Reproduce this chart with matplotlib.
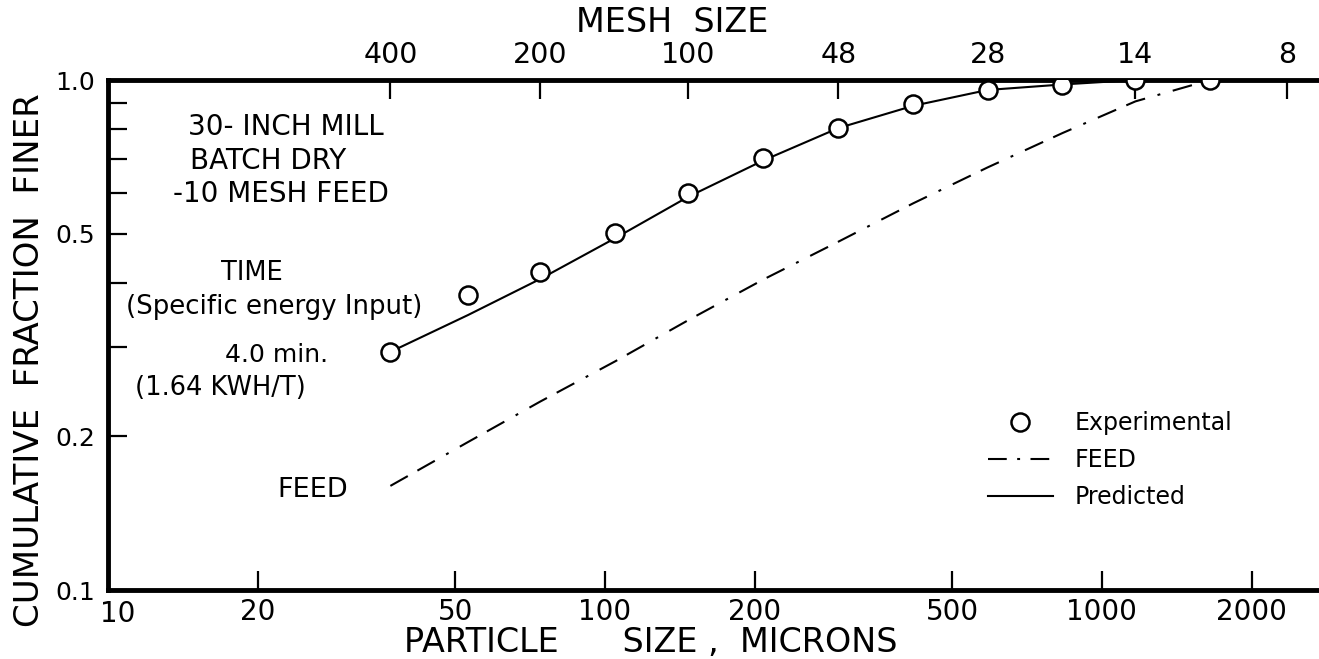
import matplotlib
matplotlib.use("Agg")
import matplotlib.pyplot as plt
from matplotlib.lines import Line2D
from matplotlib.ticker import NullLocator

# Particle sizes (microns), root-2 sieve series
sizes_um = [37, 53, 74, 105, 147, 208, 295, 417, 589, 833, 1168, 1651]
experimental = [0.293, 0.379, 0.42, 0.501, 0.60, 0.703, 0.805, 0.897, 0.956, 0.978, 1.0, 1.0]
predicted_um = [37, 53, 74, 105, 147, 208, 295, 417, 589, 833, 1168]
predicted = [0.293, 0.346, 0.407, 0.49, 0.59, 0.695, 0.805, 0.89, 0.956, 0.98, 1.0]
feed = [0.160, 0.195, 0.234, 0.281, 0.338, 0.406, 0.482, 0.573, 0.674, 0.787, 0.908, 1.0]

# axis ticks
x_ticks = [20, 50, 100, 200, 500, 1000, 2000]
x_ticklabels = ["20", "50", "100", "200", "500", "1000", "2000"]
y_ticks = [0.1, 0.2, 0.3, 0.4, 0.5, 0.6, 0.7, 0.8, 0.9, 1.0]
y_ticklabels = ["0.1", "0.2", "", "", "0.5", "", "", "", "", "1.0"]
mesh_um = [37, 74, 147, 295, 589, 1168, 2362]
mesh_labels = ["400", "200", "100", "48", "28", "14", "8"]

plt.rcParams["font.family"] = ["DejaVu Sans"]

fig = plt.figure(figsize=(13.19, 6.59), dpi=100)
ax = fig.add_axes([108 / 1319, 69 / 659, 1211 / 1319, 510 / 659])
ax.set_xscale("log")
ax.set_yscale("log")
ax.set_xlim(10, 2734)
ax.set_ylim(0.1, 1.0)

feed_style = (0, (9.6, 5.3, 9.6, 6.2, 1.4, 6.2))
ax.plot(sizes_um, feed, color="black", lw=1.5, linestyle=feed_style, zorder=2)
ax.plot(predicted_um, predicted, color="black", lw=1.5, zorder=2)
ax.plot(sizes_um, experimental, linestyle="none", marker="o", ms=13,
        mfc="white", mec="black", mew=1.8, zorder=3)

for side in ["left", "top", "bottom"]:
    ax.spines[side].set_linewidth(3.5)
ax.spines["right"].set_visible(False)

ax.set_xticks(x_ticks, labels=x_ticklabels)
ax.set_yticks(y_ticks, labels=y_ticklabels)
ax.xaxis.set_minor_locator(NullLocator())
ax.yaxis.set_minor_locator(NullLocator())
ax.tick_params(axis="both", direction="in", length=14, width=1.6, color="black")
ax.tick_params(axis="x", pad=6, labelsize=20)
ax.tick_params(axis="y", pad=9, labelsize=18)
ax.tick_params(top=False, right=False)

# bottom "10" label at the corner
ax.text(0.008, -0.02, "10", transform=ax.transAxes, ha="center", va="top", fontsize=20)

ax.set_xlabel("PARTICLE      SIZE ,  MICRONS", fontsize=24, va="center")
ax.xaxis.set_label_coords((651 - 108) / 1211, (590 - 642) / 510)
ax.set_ylabel("CUMULATIVE  FRACTION  FINER", fontsize=24.5, va="center")
ax.yaxis.set_label_coords((30 - 108) / 1211, (590 - 360) / 510)

# top axis: mesh size (drawn underneath the data so markers hide its ticks)
top = ax.twiny()
top.set_xscale("log")
top.set_xlim(ax.get_xlim())
for s in top.spines.values():
    s.set_visible(False)
top.set_xticks(mesh_um, labels=mesh_labels)
top.xaxis.set_minor_locator(NullLocator())
top.tick_params(axis="x", direction="in", length=14, width=1.6, labelsize=20.5, pad=8)
top.set_xlabel("MESH  SIZE", fontsize=24, va="center")
top.xaxis.set_label_coords((672 - 108) / 1211, (590 - 22) / 510)
top.set_zorder(0)
top.patch.set_visible(False)
ax.set_zorder(1)
ax.patch.set_visible(False)

# annotations
def px(x, y):
    return (x - 108) / 1211, (590 - y) / 510

notes = [
    ("30- INCH MILL", 188, 127, "left", 20),
    ("BATCH DRY", 190, 161, "left", 20),
    ("-10 MESH FEED", 173, 194, "left", 20),
    ("TIME", 252, 273, "center", 18.5),
    ("(Specific energy Input)", 274, 307, "center", 18.7),
    ("4.0 min.", 225, 355, "left", 18),
    ("(1.64 KWH/T)", 135, 388, "left", 18.5),
    ("FEED", 277, 490, "left", 19.5),
]
for txt, x, y, ha, fs in notes:
    ax.text(*px(x, y), txt, transform=ax.transAxes, ha=ha, va="center", fontsize=fs)

handles = [
    Line2D([], [], linestyle="none", marker="o", ms=13, mfc="white", mec="black", mew=1.8),
    Line2D([], [], color="black", lw=1.5, linestyle=(0, (9, 5, 1.4, 5))),
    Line2D([], [], color="black", lw=1.5),
]
ax.legend(handles, ["Experimental", "FEED", "Predicted"], loc="upper left",
          bbox_to_anchor=(988 / 1319, (659 - 411) / 659), bbox_transform=fig.transFigure,
          frameon=False, fontsize=17, borderpad=0, borderaxespad=0,
          handlelength=2.75, handletextpad=0.93, labelspacing=0.55)

fig.savefig("out.png", dpi=100, facecolor="white")
